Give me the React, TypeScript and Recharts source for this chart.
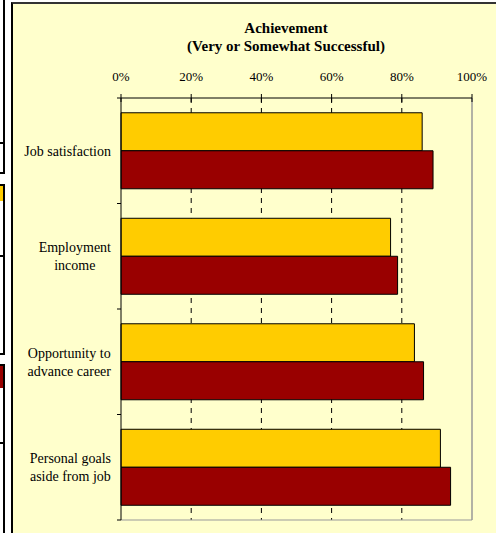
import { Bar, BarChart, CartesianGrid, ReferenceLine, XAxis, YAxis } from "recharts";

const CATEGORIES = [
  "Job satisfaction",
  "Employment\nincome",
  "Opportunity to\nadvance career",
  "Personal goals\naside from job",
];
const SERIES_A = [0.858, 0.768, 0.836, 0.91];
const SERIES_B = [0.889, 0.788, 0.862, 0.939];
const X_TICKS = [0, 0.2, 0.4, 0.6, 0.8, 1];
const GRID_TICKS = [0.2, 0.4, 0.6, 0.8];

const data = CATEGORIES.map((name, i) => ({ name, a: SERIES_A[i], b: SERIES_B[i] }));

const FONT = "'Liberation Serif', 'Times New Roman', serif";

let ctx: CanvasRenderingContext2D | null = null;
function textWidth(s: string, size: number) {
  if (!ctx) ctx = document.createElement("canvas").getContext("2d");
  if (!ctx) return s.length * size * 0.45;
  ctx.font = `${size}px 'Liberation Serif'`;
  return ctx.measureText(s).width;
}

// label block is right-aligned, its lines centred; tick marks sit on band edges
function CategoryTick({ x, y, payload }: any) {
  const lines = String(payload.value).split("\n");
  const block = Math.max(...lines.map((l) => textWidth(l, 14)));
  const cx = x - block / 2;
  const half = payload.offset ?? 52.75;
  return (
    <g>
      <line x1={x + 6} x2={x + 10} y1={y - half} y2={y - half} stroke="#000" />
      {payload.index === CATEGORIES.length - 1 && (
        <line x1={x + 6} x2={x + 10} y1={y + half} y2={y + half} stroke="#000" />
      )}
      {lines.map((line, i) => (
        <text
          key={i}
          x={cx}
          y={y + (i - (lines.length - 1) / 2) * 18}
          dy="0.35em"
          textAnchor="middle"
          fontSize={14}
          fontFamily={FONT}
          fill="#000"
        >
          {line}
        </text>
      ))}
    </g>
  );
}

function PercentTick({ x, y, payload }: any) {
  return (
    <g>
      <line x1={x} x2={x} y1={y - 4} y2={y + 4} stroke="#000" />
      <text x={x} y={y - 17} textAnchor="middle" fontSize={13} fontFamily={FONT} fill="#000">
        {`${Math.round(payload.value * 100)}%`}
      </text>
    </g>
  );
}

function LeftStrip() {
  const box = (top: number, height: number, fill?: string, fillH = 0) => (
    <div
      style={{
        position: "absolute",
        left: -4,
        top,
        width: 5,
        height,
        border: "2px solid #000",
        background: "#fff",
      }}
    >
      {fill && <div style={{ height: fillH, background: fill }} />}
    </div>
  );
  return (
    <>
      {box(-4, 174)}
      <div style={{ position: "absolute", left: 0, top: 142, width: 3, height: 2, background: "#000" }} />
      {box(184, 167, "#FFCC00", 15)}
      <div style={{ position: "absolute", left: 0, top: 255, width: 3, height: 2, background: "#000" }} />
      {box(364, 180, "#990000", 22)}
      <div style={{ position: "absolute", left: 0, top: 442, width: 3, height: 2, background: "#000" }} />
    </>
  );
}

export default function App() {
  return (
    <div
      style={{
        position: "absolute",
        left: 0,
        top: 0,
        width: 496,
        height: 533,
        background: "#fff",
        overflow: "hidden",
      }}
    >
      <LeftStrip />
      <div
        style={{
          position: "absolute",
          left: 11,
          top: 2,
          width: 485,
          height: 531,
          background: "#FFFFCC",
          borderLeft: "2px solid #000",
          borderTop: "2px solid #333",
          boxSizing: "border-box",
        }}
      />
      <div
        style={{
          position: "absolute",
          left: 86,
          top: 19,
          width: 400,
          textAlign: "center",
          fontFamily: FONT,
          fontWeight: "bold",
          fontSize: 15,
          lineHeight: "18px",
          color: "#000",
        }}
      >
        Achievement
        <br />
        (Very or Somewhat Successful)
      </div>
      <div style={{ position: "absolute", left: 0, top: 0 }}>
        <BarChart
          width={496}
          height={533}
          data={data}
          layout="vertical"
          barCategoryGap="14%"
          barGap={0}
          margin={{ top: 68, right: 24, left: 11, bottom: 12 }}
        >
          <CartesianGrid
            horizontal={false}
            stroke="#000"
            strokeDasharray="5 5"
            verticalCoordinatesGenerator={({ offset }: any) =>
              GRID_TICKS.map((t) => offset.left + offset.width * t)
            }
          />
          <XAxis
            type="number"
            orientation="top"
            domain={[0, 1]}
            ticks={X_TICKS}
            height={30}
            tickSize={0}
            tickMargin={0}
            stroke="#000"
            tick={<PercentTick />}
          />
          <XAxis
            xAxisId="bottom"
            type="number"
            orientation="bottom"
            domain={[0, 1]}
            height={1}
            tick={false}
            tickLine={false}
            stroke="#999"
          />
          <YAxis
            type="category"
            dataKey="name"
            width={110}
            stroke="#000"
            tickLine={false}
            tickSize={0}
            tickMargin={10}
            tick={<CategoryTick />}
          />
          <ReferenceLine x={1} stroke="#999" strokeWidth={1.5} />
          <Bar dataKey="a" fill="#FFCC00" stroke="#000" strokeWidth={1} isAnimationActive={false} />
          <Bar dataKey="b" fill="#990000" stroke="#000" strokeWidth={1} isAnimationActive={false} />
        </BarChart>
      </div>
    </div>
  );
}
